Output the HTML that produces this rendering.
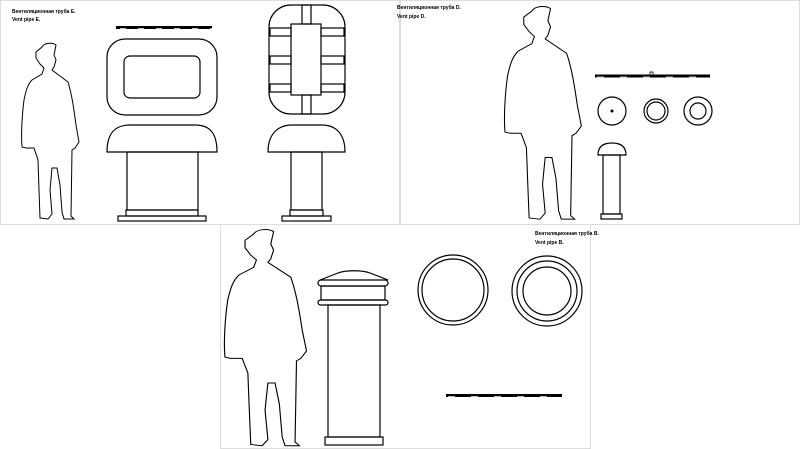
<!DOCTYPE html>
<html><head><meta charset="utf-8"><style>
html,body{margin:0;padding:0;background:#fff;width:800px;height:449px;overflow:hidden}
svg{display:block}
text{font-family:"Liberation Sans","Noto Sans CJK SC",sans-serif;font-weight:bold;fill:#000}
</style></head><body>
<svg width="800" height="449" viewBox="0 0 800 449" xmlns="http://www.w3.org/2000/svg">
<defs>
<path id="man" d="M42,47 C44,43 52,42 56,45 L55,50 L54,55 L56,60 L54,67 L52,70 L60,76 L68,82 C72,95 74,110 76,125 L79,142 L75,148 L72,150 L71,216 L74,219 L64,219 L62,212 L60,185 L57,168 L52,168 L50,190 L52,214 L48,219 L40,218 L39,190 L38,160 L34,148 L26,148 L22,147 C21,135 22,115 24,100 C26,90 28,84 32,80 L42,74 L44,68 L40,64 L36,58 L36,52 Z" fill="none" stroke="#000"/>
</defs>
<rect x="0" y="0" width="800" height="449" fill="#fff"/>
<rect x="0.5" y="0.5" width="399" height="224" fill="none" stroke="#ddd"/>
<rect x="400.5" y="0.5" width="399" height="224" fill="none" stroke="#ddd"/>
<rect x="220.5" y="224.5" width="370" height="224" fill="none" stroke="#ddd"/>

<!-- Panel E -->
<text x="12" y="13" font-size="5">Вентиляционная труба E.</text>
<text x="12" y="21" font-size="5">Vent pipe E.</text>
<use href="#man" stroke-width="1"/>
<g fill="none" stroke="#000" stroke-width="1.2">
<line x1="116" y1="27.5" x2="212" y2="27.5" stroke-width="3"/>
<line x1="120" y1="28.5" x2="212" y2="28.5" stroke="#bbb" stroke-width="1" stroke-dasharray="6 12"/>
<rect x="107" y="39" width="110" height="76" rx="18"/>
<rect x="124" y="56" width="76" height="42" rx="6"/>
<path d="M107,152 C107,130 118,125 130,125 L195,125 C207,125 217,130 217,152 Z"/>
<rect x="127" y="152" width="71" height="58"/>
<rect x="126" y="210" width="72" height="6"/>
<rect x="118" y="216" width="88" height="5"/>

<rect x="269" y="5" width="76" height="109" rx="22"/>
<rect x="291" y="24" width="30" height="71"/>
<rect x="302" y="5" width="9" height="19"/>
<rect x="302" y="95" width="9" height="19"/>
<rect x="270" y="28" width="21" height="8"/><rect x="321" y="28" width="23" height="8"/>
<rect x="270" y="56" width="21" height="8"/><rect x="321" y="56" width="23" height="8"/>
<rect x="270" y="84" width="21" height="8"/><rect x="321" y="84" width="23" height="8"/>
<path d="M268,152 C268,132 280,125 292,125 L322,125 C334,125 345,132 345,152 Z"/>
<rect x="291" y="152" width="31" height="58"/>
<rect x="290" y="210" width="33" height="6"/>
<rect x="282" y="216" width="49" height="5"/>
</g>

<!-- Panel D -->
<text x="397" y="9" font-size="5">Вентиляционная труба D.</text>
<text x="397" y="18" font-size="5">Vent pipe D.</text>
<use href="#man" transform="translate(505,5) scale(1.34,1.21) translate(-22,-42)" stroke-width="0.8"/>
<g fill="none" stroke="#000" stroke-width="1.2">
<line x1="595" y1="76" x2="710" y2="76" stroke-width="3"/>
<line x1="597" y1="77" x2="710" y2="77" stroke="#bbb" stroke-width="1" stroke-dasharray="7 16"/>
<rect x="650" y="72" width="3" height="3" stroke-width="0.8"/>
<circle cx="612" cy="111" r="14"/>
<circle cx="656" cy="111" r="12"/><circle cx="656" cy="111" r="9"/>
<circle cx="698" cy="111" r="14"/><circle cx="698" cy="111" r="8"/>
<path d="M598,155 C598,146 604,143 612,143 C620,143 626,146 626,155 Z"/>
<rect x="603" y="155" width="17" height="59"/>
<rect x="601" y="214" width="21" height="5"/>
</g>
<circle cx="612" cy="111" r="1.5" fill="#000"/>

<!-- Panel B -->
<text x="535" y="235" font-size="5">Вентиляционная труба B.</text>
<text x="535" y="244" font-size="5">Vent pipe B.</text>
<use href="#man" transform="translate(225,228) scale(1.43,1.23) translate(-22,-42)" stroke-width="0.8"/>
<g fill="none" stroke="#000" stroke-width="1.2">
<path d="M320,280 L338,273 C346,270 362,270 370,273 L388,280"/>
<rect x="318" y="280" width="70" height="6" rx="3"/>
<rect x="321" y="286" width="64" height="14"/>
<rect x="318" y="300" width="70" height="5" rx="2.5"/>
<rect x="328" y="305" width="52" height="132"/>
<rect x="325" y="437" width="58" height="8"/>
<circle cx="453" cy="290" r="35"/><circle cx="453" cy="290" r="31"/>
<circle cx="547" cy="291" r="35"/><circle cx="547" cy="291" r="30"/><circle cx="547" cy="291" r="24"/>
<line x1="446" y1="395.5" x2="562" y2="395.5" stroke-width="3"/>
<line x1="448" y1="396.5" x2="562" y2="396.5" stroke="#bbb" stroke-width="1" stroke-dasharray="7 16"/>
</g>
</svg>
</body></html>
